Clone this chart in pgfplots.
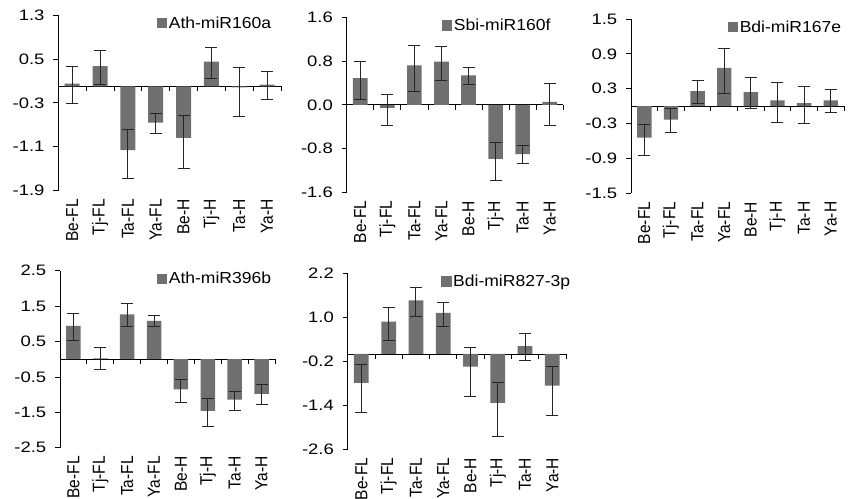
\documentclass[border=0pt]{standalone}
\usepackage{fontspec}
\setmainfont{Liberation Sans}
\usepackage{pgfplots}
\usepackage{pgfplotstable}
\pgfplotsset{compat=1.18}

\definecolor{bargray}{RGB}{112,112,112}

% x = category index, v = value, ep/em = error up/down
\pgfplotstableread{
x v ep em
0 0.05 0.31 0.36
1 0.37 0.29 0.34
2 -1.16 0.38 0.51
3 -0.66 0.16 0.20
4 -0.94 0.41 0.56
5 0.45 0.26 0.31
6 -0.02 0.37 0.53
7 0.03 0.24 0.26
}\tabA
\pgfplotstableread{
x v ep em
0 0.49 0.31 0.39
1 -0.055 0.24 0.32
2 0.72 0.37 0.48
3 0.79 0.28 0.34
4 0.54 0.15 0.16
5 -0.99 0.30 0.39
6 -0.90 0.16 0.17
7 0.055 0.34 0.43
}\tabB
\pgfplotstableread{
x v ep em
0 -0.54 0.23 0.31
1 -0.23 0.19 0.23
2 0.26 0.19 0.22
3 0.66 0.34 0.45
4 0.24 0.25 0.28
5 0.10 0.30 0.38
6 0.05 0.29 0.35
7 0.10 0.19 0.21
}\tabC
\pgfplotstableread{
x v ep em
0 0.94 0.36 0.42
1 0.02 0.30 0.31
2 1.27 0.30 0.34
3 1.08 0.15 0.17
4 -0.85 0.27 0.36
5 -1.46 0.34 0.43
6 -1.14 0.23 0.31
7 -0.98 0.26 0.31
}\tabD
\pgfplotstableread{
x v ep em
0 -0.785 0.51 0.80
1 0.884 0.37 0.51
2 1.462 0.34 0.44
3 1.119 0.29 0.36
4 -0.343 0.51 0.82
5 -1.336 0.56 0.91
6 0.217 0.33 0.39
7 -0.866 0.52 0.81
}\tabE

\pgfplotsset{
  mirpanel/.style 2 args={
    scale only axis,
    anchor=south west,
    xmin=-0.5, xmax=7.5,
    axis x line=middle, axis y line=left,
    axis line style={-, line width=0.8bp, black},
    tick align=outside,
    major tick length=5bp, minor tick length=5bp,
    xtick={0,1,2,3,4,5,6,7},
    xticklabels={Be-FL,Tj-FL,Ta-FL,Ya-FL,Be-H,Tj-H,Ta-H,Ya-H},
    major x tick style={draw=none},
    minor xtick={0.5,1.5,2.5,3.5,4.5,5.5,6.5,7.5},
    minor x tick style={line width=0.8bp, black},
    major y tick style={line width=0.8bp, black},
    hide obscured x ticks=false, hide obscured y ticks=false,
    xticklabel style={font=\fontsize{15.6}{17}\selectfont, yshift=-#1bp, xscale=1.12, rotate=90, anchor=east},
    yticklabel style={font=\fontsize{15.2}{17}\selectfont, xshift=-4.5bp, xscale=1.22, anchor=east},
    legend style={draw=none, fill=none, at={(1,1)}, anchor=north east, xshift=#2bp,
      inner sep=0pt, font=\fontsize{16}{18}\selectfont, nodes={inner sep=1.5bp, xscale=1.1}},
    legend image code/.code={\fill[bargray] (0bp,-5.25bp) rectangle (10.5bp,5.25bp);},
  },
  mirbars/.style={
    ybar, bar width=0.54, fill=bargray, draw=none,
    error bars/.cd, y dir=both, y explicit,
    error bar style={line width=1bp, black!85},
    error mark=-,
    error mark options={rotate=90, line width=1bp, black!85, mark size=6bp},
  },
}

\begin{document}
\begin{tikzpicture}
\useasboundingbox (0,0) rectangle (854bp,-499bp);

\begin{axis}[mirpanel={104.3}{-8}, at={(58.3bp,-190.7bp)}, width=222.7bp, height=175.7bp,
  ymin=-1.9, ymax=1.3, ytick={-1.9,-1.1,-0.3,0.5,1.3},
  yticklabels={-1.9,-1.1,-0.3,0.5,1.3}]
  \addplot[mirbars] table[x=x, y=v, y error plus=ep, y error minus=em] {\tabA};
  \addlegendentry{Ath-miR160a}
\end{axis}

\begin{axis}[mirpanel={87.5}{-11}, at={(346.7bp,-192.3bp)}, width=216.6bp, height=175bp,
  ymin=-1.6, ymax=1.6, ytick={-1.6,-0.8,0,0.8,1.6},
  yticklabels={-1.6,-0.8,0.0,0.8,1.6}]
  \addplot[mirbars] table[x=x, y=v, y error plus=ep, y error minus=em] {\tabB};
  \addlegendentry{Sbi-miR160f}
\end{axis}

\begin{axis}[mirpanel={87.1}{-1}, at={(631bp,-193.3bp)}, width=213bp, height=174.3bp,
  ymin=-1.5, ymax=1.5, ytick={-1.5,-0.9,-0.3,0.3,0.9,1.5},
  yticklabels={-1.5,-0.9,-0.3,0.3,0.9,1.5}]
  \addplot[mirbars] table[x=x, y=v, y error plus=ep, y error minus=em] {\tabC};
  \addlegendentry{Bdi-miR167e}
\end{axis}

\begin{axis}[mirpanel={88.5}{-2}, at={(60bp,-447.7bp)}, width=215bp, height=177bp,
  ymin=-2.5, ymax=2.5, ytick={-2.5,-1.5,-0.5,0.5,1.5,2.5},
  yticklabels={-2.5,-1.5,-0.5,0.5,1.5,2.5}]
  \addplot[mirbars] table[x=x, y=v, y error plus=ep, y error minus=em] {\tabD};
  \addlegendentry{Ath-miR396b}
\end{axis}

\begin{axis}[mirpanel={95.3}{6}, at={(347.7bp,-449.3bp)}, width=218.3bp, height=176bp,
  ymin=-2.6, ymax=2.2, ytick={-2.6,-1.4,-0.2,1.0,2.2},
  yticklabels={-2.6,-1.4,-0.2,1.0,2.2}]
  \addplot[mirbars] table[x=x, y=v, y error plus=ep, y error minus=em] {\tabE};
  \addlegendentry{Bdi-miR827-3p}
\end{axis}
\end{tikzpicture}
\end{document}
